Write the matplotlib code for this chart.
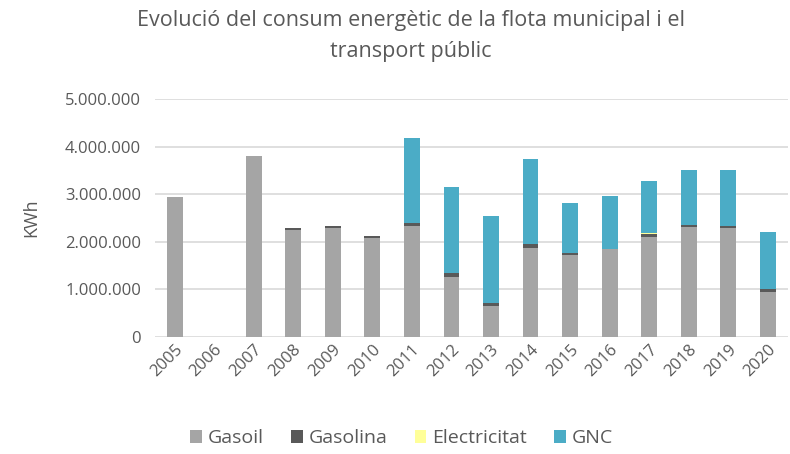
import numpy as np
import matplotlib.pyplot as plt
from matplotlib.ticker import FuncFormatter

plt.rcParams['font.family'] = ['Open Sans', 'DejaVu Sans']

anys = ['2005', '2006', '2007', '2008', '2009', '2010', '2011', '2012',
        '2013', '2014', '2015', '2016', '2017', '2018', '2019', '2020']
gasoil = [2945000, 0, 3794000, 2237000, 2286000, 2083000, 2328000, 1255000,
          659000, 1872000, 1711000, 1837000, 2104000, 2307000, 2279000, 947000]
gasolina = [0, 0, 0, 42000, 42000, 42000, 56000, 77000,
            56000, 77000, 42000, 10000, 63000, 49000, 56000, 56000]
electricitat = [0, 0, 0, 0, 0, 0, 0, 0,
                0, 0, 0, 0, 20000, 0, 0, 0]
gnc = [0, 0, 0, 0, 0, 0, 1795000, 1816000,
       1823000, 1795000, 1066000, 1108000, 1094000, 1157000, 1178000, 1199000]

colors = ['#a5a5a5', '#595959', '#ffff99', '#4bacc6']
txt = '#595959'

fig = plt.figure(figsize=(7.9, 4.54), dpi=100)
ax = fig.add_axes([0.196, 0.258, 0.801, 0.524])

x = np.arange(len(anys))
bottom = np.zeros(len(anys))
for vals, c, lab in zip([gasoil, gasolina, electricitat, gnc], colors,
                        ['Gasoil', 'Gasolina', 'Electricitat', 'GNC']):
    ax.bar(x, vals, 0.4, bottom=bottom, color=c, label=lab, zorder=3)
    bottom += np.array(vals)

ax.set_ylim(0, 5000000)
ax.set_xlim(-0.5, len(anys) - 0.5)
ax.set_yticks(np.arange(0, 5000001, 1000000))
ax.yaxis.set_major_formatter(FuncFormatter(lambda v, p: f'{int(v):,}'.replace(',', '.')))
ax.grid(axis='y', color='#d9d9d9', linewidth=1.2, zorder=0)
for s in ax.spines.values():
    s.set_visible(False)
ax.tick_params(length=0, colors=txt, labelsize=12)
ax.tick_params(axis='y', pad=10)
ax.set_xticks(x)
ax.set_xticklabels(anys, rotation=45, ha='right', rotation_mode='anchor')
ax.set_ylabel('KWh', color=txt, fontsize=13, labelpad=18)

fig.suptitle('Evolució del consum energètic de la flota municipal i el\ntransport públic',
             x=0.52, y=0.978, color=txt, fontsize=15.5, linespacing=1.6)

ax.legend(loc='upper center', bbox_to_anchor=(0.39, -0.315), ncol=4, frameon=False,
          fontsize=14, labelcolor=txt, handlelength=0.6, handleheight=0.6,
          columnspacing=1.4, handletextpad=0.3)

plt.savefig('out.png')
